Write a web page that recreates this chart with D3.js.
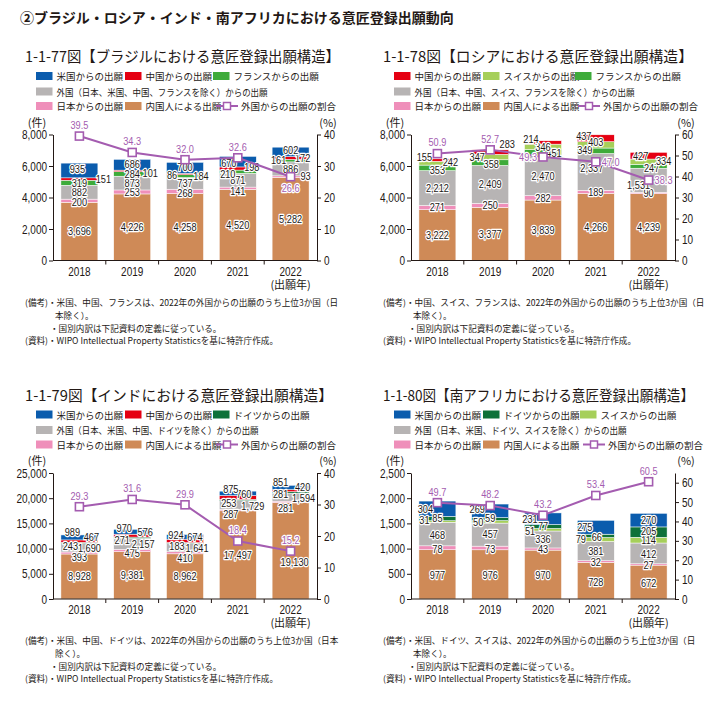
<!DOCTYPE html>
<html><head><meta charset="utf-8">
<script src="https://cdn.jsdelivr.net/npm/d3@7"></script>
<style>
body{margin:0;background:#fff}
svg text{font-family:"Noto Sans CJK JP",sans-serif;fill:#231815}
svg .num{font-family:"Liberation Sans",Arial,sans-serif}
</style></head><body>
<svg id="c" width="725" height="711"></svg>
<script>
// ---------- data ----------
const years = ["2018","2019","2020","2021","2022"];
// Brazil
const brDomestic = [3696,4226,4258,4520,5282];
const brJapan    = [200,253,268,141,93];
const brOther    = [882,873,737,871,886];
const brFrance   = [319,284,184,210,161];
const brChina    = [151,101,86,198,172];
const brUS       = [935,686,700,670,602];
const brRatio    = [39.5,34.3,32.0,32.6,26.6];
// Russia
const ruDomestic = [3222,3377,3839,4266,4239];
const ruJapan    = [271,250,282,189,90];
const ruOther    = [2212,2409,2470,2337,1531];
const ruFrance   = [353,358,451,349,247];
const ruSwiss    = [242,347,346,403,334];
const ruChina    = [155,283,214,437,427];
const ruRatio    = [50.9,52.7,49.3,47.0,38.3];
// India
const inDomestic = [8928,9381,8962,17497,19130];
const inJapan    = [393,475,410,287,281];
const inOther    = [1690,2157,1641,1729,1594];
const inGermany  = [243,271,183,253,281];
const inChina    = [467,576,674,760,420];
const inUS       = [989,970,924,875,851];
const inRatio    = [29.3,31.6,29.9,18.4,15.2];
// South Africa
const zaDomestic = [977,976,970,728,672];
const zaJapan    = [78,73,43,32,27];
const zaOther    = [468,457,336,381,412];
const zaSwiss    = [31,50,51,79,114];
const zaGermany  = [85,59,77,66,205];
const zaUS       = [304,269,231,275,270];
const zaRatio    = [49.7,48.2,43.2,53.4,60.5];

// ---------- styles ----------
const C = {us:"#0b5cad", cn:"#e50012", fr:"#3eab3a", sw:"#a6cf5a", de:"#0e7139",
           oth:"#b7b4b4", jp:"#ef8fba", dom:"#cf8a57", line:"#a45cb0"};
const SX = 0.8; // horizontal condensing of numeric text

const svg = d3.select("#c");
svg.append("text").attr("x",20).attr("y",17).attr("dominant-baseline","central")
  .style("font-size","14px").style("font-weight","bold")
  .text("②ブラジル・ロシア・インド・南アフリカにおける意匠登録出願動向");

function numText(g,x,y,txt,size,anchor,halo){
  const t = g.append("text").attr("class","num")
    .attr("transform",`translate(${x},${y}) scale(${SX},1)`)
    .attr("text-anchor",anchor||"middle").attr("dominant-baseline","central")
    .style("font-size",size+"px").text(txt);
  if(halo) t.style("paint-order","stroke").attr("stroke","#fff").attr("stroke-width",2.6).attr("stroke-linejoin","round");
  return t;
}

function panel(cfg){
  const g = svg.append("g").attr("transform",`translate(${cfg.ox},${cfg.oy})`);
  g.append("text").attr("x",25).attr("y",55.5).attr("dominant-baseline","central")
    .style("font-size","15px").attr("textLength",cfg.headW).attr("lengthAdjust","spacingAndGlyphs")
    .text(cfg.heading);

  // legend
  const lg = g.append("g").style("font-size","9.5px");
  function sw(x,y,col,txt,w){
    lg.append("rect").attr("x",x).attr("y",y-4).attr("width",16.5).attr("height",8).attr("fill",col);
    const t = lg.append("text").attr("x",x+20.5).attr("y",y).attr("dominant-baseline","central").text(txt);
    if(w) t.attr("textLength",w).attr("lengthAdjust","spacingAndGlyphs");
  }
  const top3 = cfg.series.slice(3).reverse();
  const cols = [36,125,cfg.col3];
  top3.forEach((s,i)=>sw(cols[i],76,s.color,s.name));
  sw(36,91.5,cfg.series[2].color,cfg.series[2].name,cfg.legW);
  sw(36,106,cfg.series[1].color,cfg.series[1].name);
  sw(125,106,cfg.series[0].color,cfg.series[0].name);
  lg.append("line").attr("x1",cfg.col3+3).attr("x2",cfg.col3+25).attr("y1",106).attr("y2",106)
    .attr("stroke",C.line).attr("stroke-width",2);
  lg.append("rect").attr("x",cfg.col3+10.5).attr("y",102.5).attr("width",7).attr("height",7)
    .attr("fill","#fff").attr("stroke",C.line).attr("stroke-width",1.5);
  lg.append("text").attr("x",cfg.col3+28).attr("y",106).attr("dominant-baseline","central").text("外国からの出願の割合");

  const y0 = 260.5, y1 = 134.5;
  const x = d3.scaleBand().domain(years).range([53,317]).paddingInner(0.3).paddingOuter(0.15);
  const y = d3.scaleLinear().domain([0,cfg.ymax]).range([y0,y1]);
  const yr = d3.scaleLinear().domain([0,cfg.rmax]).range([y0,y1]);

  const rows = years.map((yy,i)=>{const o={year:yy}; cfg.series.forEach(s=>o[s.key]=s.values[i]); return o;});
  const stack = d3.stack().keys(cfg.series.map(s=>s.key))(rows);

  // bars
  stack.forEach((layer,si)=>{
    g.append("g").selectAll("rect").data(layer).join("rect")
      .attr("x",d=>x(d.data.year)).attr("width",x.bandwidth())
      .attr("y",d=>y(d[1])).attr("height",d=>y(d[0])-y(d[1]))
      .attr("fill",cfg.series[si].color).attr("stroke","#fff").attr("stroke-width",0.5);
  });

  // axes
  const fmt = d3.format(",");
  const la = g.append("g").attr("transform",`translate(53,0)`)
    .call(d3.axisLeft(y).tickValues(d3.range(0,cfg.ymax+1,cfg.ystep)).tickFormat(fmt).tickSize(4).tickSizeOuter(0));
  la.selectAll("text").attr("x",-6/SX);
  const ra = g.append("g").attr("transform",`translate(317,0)`)
    .call(d3.axisRight(yr).tickValues(d3.range(0,cfg.rtop+1,10)).tickSize(4).tickSizeOuter(0));
  ra.selectAll("text").attr("x",7/SX);
  [la,ra].forEach(a=>{
    a.attr("font-family",null).attr("font-size",null);
    a.selectAll("line,path").attr("stroke","#231815");
    a.selectAll("text").attr("class","num").attr("transform",`scale(${SX},1)`)
      .style("font-size","12.5px").attr("fill",null);
  });
  g.append("line").attr("x1",53).attr("x2",317).attr("y1",y0).attr("y2",y0).attr("stroke","#231815");
  const step = x.step();
  d3.range(1,5).forEach(k=>{
    const bx = x(years[k]) - step*0.15;
    g.append("line").attr("x1",bx).attr("x2",bx).attr("y1",y0).attr("y2",y0+4).attr("stroke","#231815");
  });
  years.forEach(yy=>numText(g,x(yy)+x.bandwidth()/2,y0+11,yy,12.5));
  g.append("text").attr("x",x("2022")+x.bandwidth()/2).attr("y",y0+23).attr("text-anchor","middle")
    .attr("dominant-baseline","central").style("font-size","11px").text("(出願年)");
  g.append("text").attr("x",37).attr("y",121.5).attr("text-anchor","middle").attr("dominant-baseline","central")
    .style("font-size","11px").text("(件)");
  g.append("text").attr("x",328).attr("y",121.5).attr("text-anchor","middle").attr("dominant-baseline","central")
    .style("font-size","11px").text("(%)");

  // segment labels
  stack.forEach((layer,si)=>{
    layer.forEach((d,i)=>{
      const off = cfg.offsets[si][i];
      numText(g, x(d.data.year)+x.bandwidth()/2+off[0], y((d[0]+d[1])/2)+off[1],
        fmt(d.data[cfg.series[si].key]), 11.5, "middle", true);
    });
  });

  // ratio line
  const cx = d=>x(d)+x.bandwidth()/2;
  const pts = years.map((yy,i)=>[cx(yy),yr(cfg.ratio[i])]);
  g.append("path").attr("d",d3.line()(pts)).attr("fill","none").attr("stroke",C.line).attr("stroke-width",2);
  g.selectAll(".mk").data(pts).join("rect").attr("x",p=>p[0]-4).attr("y",p=>p[1]-4)
    .attr("width",8).attr("height",8).attr("fill","#fff").attr("stroke",C.line).attr("stroke-width",1.6);
  pts.forEach((p,i)=>{
    const pos = cfg.rpos[i];
    let tx=p[0], ty=p[1], anc="middle";
    if(pos==="a") ty=p[1]-11; else if(pos==="b") ty=p[1]+11;
    else if(pos==="l"){tx=p[0]-6; anc="end";} else {tx=p[0]+6; anc="start";}
    numText(g,tx,ty,cfg.ratio[i].toFixed(1),11.5,anc,true).style("fill",C.line);
  });

  // notes
  const ng = g.append("g").style("font-size","8.6px");
  cfg.notes.forEach(n=>{
    ng.append("text").attr("x",n[0]).attr("y",n[1]).attr("dominant-baseline","central").text(n[2]);
  });
}

const notesTail = [[50,327.5,"・国別内訳は下記資料の定義に従っている。"],
                   [25,339.5,"(資料)・WIPO Intellectual Property Statisticsを基に特許庁作成。"]];

panel({ox:0, oy:0, heading:"1-1-77図【ブラジルにおける意匠登録出願構造】", headW:315, legW:211, col3:213,
  ymax:8000, ystep:2000, rmax:40, rtop:40,
  series:[
    {key:"dom",values:brDomestic,color:C.dom,name:"内国人による出願"},
    {key:"jp",values:brJapan,color:C.jp,name:"日本からの出願"},
    {key:"oth",values:brOther,color:C.oth,name:"外国（日本、米国、中国、フランスを除く）からの出願"},
    {key:"fr",values:brFrance,color:C.fr,name:"フランスからの出願"},
    {key:"cn",values:brChina,color:C.cn,name:"中国からの出願"},
    {key:"us",values:brUS,color:C.us,name:"米国からの出願"}],
  ratio:brRatio, rpos:["a","a","a","a","b"],
  offsets:[
    [[0,0],[0,0],[0,0],[0,0],[0,0]],
    [[0,1],[0,0],[0,2],[0,3],[15,0]],
    [[0,0],[0,0],[0,0],[0,0],[0,0]],
    [[0,0],[0,0],[16,0],[-10,2],[-12,0]],
    [[24,0],[18,2],[-13,1],[14,-1],[12,0]],
    [[-2,-1],[0,-1],[0,-1],[-9,1],[0,-2]]],
  notes:[[25,301.5,"(備考)・米国、中国、フランスは、2022年の外国からの出願のうち上位3か国（日"],
         [55,314.5,"本除く）。"], ...notesTail]
});

panel({ox:358, oy:0, heading:"1-1-78図【ロシアにおける意匠登録出願構造】", headW:310, legW:220, col3:217,
  ymax:8000, ystep:2000, rmax:60, rtop:60,
  series:[
    {key:"dom",values:ruDomestic,color:C.dom,name:"内国人による出願"},
    {key:"jp",values:ruJapan,color:C.jp,name:"日本からの出願"},
    {key:"oth",values:ruOther,color:C.oth,name:"外国（日本、中国、スイス、フランスを除く）からの出願"},
    {key:"fr",values:ruFrance,color:C.fr,name:"フランスからの出願"},
    {key:"sw",values:ruSwiss,color:C.sw,name:"スイスからの出願"},
    {key:"cn",values:ruChina,color:C.cn,name:"中国からの出願"}],
  ratio:ruRatio, rpos:["a","a","l","r","r"],
  offsets:[
    [[0,0],[0,0],[0,0],[0,0],[0,0]],
    [[0,0],[0,0],[0,0],[0,0],[0,0]],
    [[0,0],[0,0],[0,0],[-4,-4],[-10,5]],
    [[0,2],[1,2],[11,0],[-11,-1],[3,2]],
    [[13,-1],[-13,0],[0,0],[0,-3],[15,-1]],
    [[-13,-3],[17,-8],[-12,-3],[-12,-2],[-8,0]]],
  notes:[[25,301.5,"(備考)・中国、スイス、フランスは、2022年の外国からの出願のうち上位3か国（日"],
         [55,314.5,"本除く）。"], ...notesTail]
});

panel({ox:0, oy:338.5, heading:"1-1-79図【インドにおける意匠登録出願構造】", headW:308, legW:202, col3:213,
  ymax:25000, ystep:5000, rmax:40, rtop:40,
  series:[
    {key:"dom",values:inDomestic,color:C.dom,name:"内国人による出願"},
    {key:"jp",values:inJapan,color:C.jp,name:"日本からの出願"},
    {key:"oth",values:inOther,color:C.oth,name:"外国（日本、米国、中国、ドイツを除く）からの出願"},
    {key:"de",values:inGermany,color:C.de,name:"ドイツからの出願"},
    {key:"cn",values:inChina,color:C.cn,name:"中国からの出願"},
    {key:"us",values:inUS,color:C.us,name:"米国からの出願"}],
  ratio:inRatio, rpos:["a","a","a","a","a"],
  offsets:[
    [[0,0],[0,0],[0,0],[0,0],[4,11]],
    [[0,4],[0,3],[0,5],[-7,4],[-5,6]],
    [[10,0],[11,0],[12,1],[15,1],[13,1]],
    [[-9,3],[-10,2],[-8,3],[-9,3],[-10,2]],
    [[12,-4],[13,-4],[10,-4],[6,-3],[12,-4]],
    [[-7,-5],[-8,-4],[-9,-2],[-7,-4],[-10,-5]]],
  notes:[[25,301.5,"(備考)・米国、中国、ドイツは、2022年の外国からの出願のうち上位3か国（日本"],
         [55,314.5,"除く）。"], ...notesTail]
});

panel({ox:358, oy:338.5, heading:"1-1-80図【南アフリカにおける意匠登録出願構造】", headW:311, legW:212, col3:222,
  ymax:2500, ystep:500, rmax:65, rtop:60,
  series:[
    {key:"dom",values:zaDomestic,color:C.dom,name:"内国人による出願"},
    {key:"jp",values:zaJapan,color:C.jp,name:"日本からの出願"},
    {key:"oth",values:zaOther,color:C.oth,name:"外国（日本、米国、ドイツ、スイスを除く）からの出願"},
    {key:"sw",values:zaSwiss,color:C.sw,name:"スイスからの出願"},
    {key:"de",values:zaGermany,color:C.de,name:"ドイツからの出願"},
    {key:"us",values:zaUS,color:C.us,name:"米国からの出願"}],
  ratio:zaRatio, rpos:["a","a","a","a","a"],
  offsets:[
    [[0,1],[0,1],[0,1],[0,1],[0,1]],
    [[0,1],[0,1],[0,0],[0,1],[0,1]],
    [[0,1],[0,0],[0,0],[0,0],[0,1]],
    [[-13,-1],[-12,0],[-13,1],[-15,0],[0,0]],
    [[0,0],[0,-1],[0,0],[1,1],[0,-1]],
    [[-12,0],[-13,-2],[-13,0],[-11,0],[0,0]]],
  notes:[[25,301.5,"(備考)・米国、ドイツ、スイスは、2022年の外国からの出願のうち上位3か国（日"],
         [55,314.5,"本除く）。"], ...notesTail]
});
</script>
</body></html>
